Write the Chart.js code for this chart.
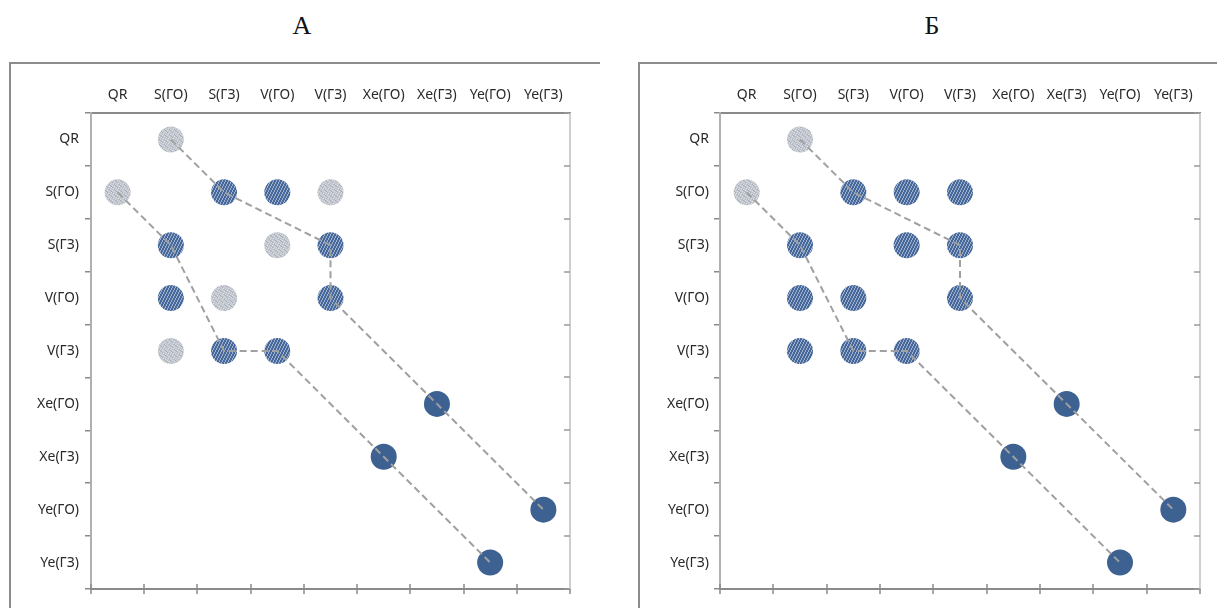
<!DOCTYPE html>
<html>
<head>
<meta charset="utf-8">
<script src="https://cdn.jsdelivr.net/npm/chart.js@4/dist/chart.umd.min.js"></script>
<style>
  html, body { margin: 0; padding: 0; background: #fff; width: 1217px; height: 608px; overflow: hidden; }
  .title { position: absolute; top: 11px; font: 26px "Liberation Serif", serif; color: #111; transform: translateX(-50%); }
  .frame { position: absolute; top: 62px; height: 560px; border-top: 2px solid #8c8c8c; border-left: 2px solid #8c8c8c; }
  canvas { position: absolute; top: 0; }
</style>
</head>
<body>
<div class="title" style="left:302px">А</div>
<div class="title" style="left:932px">Б</div>
<div class="frame" style="left:9px; width:589px"></div>
<div class="frame" style="left:638px; width:600px"></div>
<canvas id="chartA" width="600" height="608" style="left:0"></canvas>
<canvas id="chartB" width="609" height="608" style="left:608px"></canvas>

<script>
// Grid categories, used for both the columns (top) and the rows (left)
const categories = ['QR', 'S(ГО)', 'S(ГЗ)', 'V(ГО)', 'V(ГЗ)', 'Xe(ГО)', 'Xe(ГЗ)', 'Ye(ГО)', 'Ye(ГЗ)'];

// Cells are written as [column, row]
// Panel А
const dottedA = [['S(ГО)', 'QR'], ['QR', 'S(ГО)'], ['V(ГЗ)', 'S(ГО)'], ['V(ГО)', 'S(ГЗ)'], ['S(ГЗ)', 'V(ГО)'], ['S(ГО)', 'V(ГЗ)']];
const hatchedA = [['S(ГЗ)', 'S(ГО)'], ['V(ГО)', 'S(ГО)'], ['S(ГО)', 'S(ГЗ)'], ['V(ГЗ)', 'S(ГЗ)'], ['S(ГО)', 'V(ГО)'], ['V(ГЗ)', 'V(ГО)'], ['S(ГЗ)', 'V(ГЗ)'], ['V(ГО)', 'V(ГЗ)']];
// Panel Б
const dottedB = [['S(ГО)', 'QR'], ['QR', 'S(ГО)']];
const hatchedB = [['S(ГЗ)', 'S(ГО)'], ['V(ГО)', 'S(ГО)'], ['V(ГЗ)', 'S(ГО)'], ['S(ГО)', 'S(ГЗ)'], ['V(ГО)', 'S(ГЗ)'], ['V(ГЗ)', 'S(ГЗ)'], ['S(ГО)', 'V(ГО)'], ['S(ГЗ)', 'V(ГО)'], ['V(ГЗ)', 'V(ГО)'], ['S(ГО)', 'V(ГЗ)'], ['S(ГЗ)', 'V(ГЗ)'], ['V(ГО)', 'V(ГЗ)']];
// Shared by both panels
const solidCells = [['Xe(ГЗ)', 'Xe(ГО)'], ['Xe(ГО)', 'Xe(ГЗ)'], ['Ye(ГЗ)', 'Ye(ГО)'], ['Ye(ГО)', 'Ye(ГЗ)']];
const chainUpper = [['S(ГО)', 'QR'], ['S(ГЗ)', 'S(ГО)'], ['V(ГЗ)', 'S(ГЗ)'], ['V(ГЗ)', 'V(ГО)'], ['Xe(ГЗ)', 'Xe(ГО)'], ['Ye(ГЗ)', 'Ye(ГО)']];
const chainLower = [['QR', 'S(ГО)'], ['S(ГО)', 'S(ГЗ)'], ['S(ГЗ)', 'V(ГЗ)'], ['V(ГО)', 'V(ГЗ)'], ['Xe(ГО)', 'Xe(ГЗ)'], ['Ye(ГО)', 'Ye(ГЗ)']];

const toPoints = cells => cells.map(([x, y]) => ({ x, y }));

// Small repeating fills for the textured markers
function makePattern(ctx, size, bg, marks) {
  const c = document.createElement('canvas');
  c.width = c.height = size;
  const g = c.getContext('2d');
  g.fillStyle = bg;
  g.fillRect(0, 0, size, size);
  for (const [color, test] of marks) {
    g.fillStyle = color;
    for (let y = 0; y < size; y++)
      for (let x = 0; x < size; x++)
        if (test(x, y)) g.fillRect(x, y, 1, 1);
  }
  return ctx.createPattern(c, 'repeat');
}

const dotMarks = [
  ['#a3adbd', (x, y) => (x * 3 + y * 2) % 5 === 0],
  ['#dcdee2', (x, y) => (x + y * 3) % 5 === 2]
];
const hatchMarks = [
  ['#9fb1cc', (x, y) => (2 * x + y) % 6 < 2]
];

const FONT = { family: '"Noto Sans", sans-serif', size: 14 };

// Right and bottom frame axes: boundary ticks placed with the chart's own scales
const frameAxes = {
  id: 'frameAxes',
  afterDraw(chart) {
    const { ctx, chartArea: a, scales: { x, y } } = chart;
    ctx.save();
    ctx.strokeStyle = '#8a8a8a';
    ctx.lineWidth = 2;
    ctx.beginPath();
    ctx.moveTo(a.left - 1, a.bottom);
    ctx.lineTo(a.right + 1, a.bottom);
    ctx.stroke();
    ctx.lineWidth = 1.5;
    ctx.beginPath();
    for (let i = 0; i <= categories.length; i++) {
      const px = Math.round(x.getPixelForValue(i - 0.5));
      ctx.moveTo(px, a.bottom - 5);
      ctx.lineTo(px, a.bottom + 5);
    }
    ctx.stroke();

    ctx.strokeStyle = '#cfcfcf';
    ctx.lineWidth = 2;
    ctx.beginPath();
    ctx.moveTo(a.right, a.top);
    ctx.lineTo(a.right, a.bottom);
    ctx.stroke();
    ctx.strokeStyle = '#9a9a9a';
    ctx.lineWidth = 1.5;
    ctx.beginPath();
    for (let i = 0; i <= categories.length; i++) {
      const py = Math.round(y.getPixelForValue(i - 0.5));
      ctx.moveTo(a.right - 6, py);
      ctx.lineTo(a.right, py);
    }
    ctx.stroke();
    ctx.restore();
  }
};

function buildChart(id, dotted, hatched, leftWidth, rightPad, labelPad) {
  const canvas = document.getElementById(id);
  const ctx = canvas.getContext('2d');
  const dotFill = makePattern(ctx, 5, '#c3c7ce', dotMarks);
  const hatchFill = makePattern(ctx, 6, '#46689b', hatchMarks);

  const chain = pts => ({
    data: toPoints(pts),
    showLine: true,
    borderColor: '#a0a0a0',
    borderWidth: 2,
    borderDash: [7, 4],
    pointRadius: 0,
    fill: false
  });
  const marks = (pts, fill) => ({
    data: toPoints(pts),
    showLine: false,
    pointRadius: 13,
    pointHoverRadius: 13,
    pointBackgroundColor: fill,
    pointBorderWidth: 0,
    pointBorderColor: 'rgba(0,0,0,0)'
  });

  return new Chart(ctx, {
    type: 'scatter',
    data: {
      datasets: [
        chain(chainUpper),
        chain(chainLower),
        marks(solidCells, '#3d6191'),
        marks(hatched, hatchFill),
        marks(dotted, dotFill)
      ]
    },
    options: {
      responsive: false,
      animation: false,
      devicePixelRatio: 1,
      events: [],
      layout: { padding: { left: 0, top: 0, right: rightPad, bottom: 19 } },
      plugins: { legend: { display: false }, tooltip: { enabled: false } },
      scales: {
        x: {
          type: 'category',
          labels: categories,
          position: 'top',
          offset: true,
          grid: { offset: true, drawOnChartArea: false, drawTicks: false },
          border: { display: true, color: '#8a8a8a', width: 2 },
          ticks: { color: '#2a2a2a', font: FONT, padding: 10, maxRotation: 0, minRotation: 0, autoSkip: false },
          afterFit: s => { s.height = 113; s.paddingLeft = 0; s.paddingRight = 0; }
        },
        y: {
          type: 'category',
          labels: categories,
          position: 'left',
          offset: true,
          grid: { offset: true, drawOnChartArea: false, drawTicks: true, tickLength: 6, color: '#8a8a8a', lineWidth: 1.5 },
          border: { display: true, color: '#b0b0b0', width: 2 },
          ticks: { color: '#2a2a2a', font: FONT, padding: labelPad, autoSkip: false },
          afterFit: s => { s.width = leftWidth; s.paddingTop = 0; s.paddingBottom = 0; }
        }
      }
    },
    plugins: [frameAxes]
  });
}

buildChart('chartA', dottedA, hatchedA, 91, 30, 6);
buildChart('chartB', dottedB, hatchedB, 112, 17, 5);
</script>
</body>
</html>
